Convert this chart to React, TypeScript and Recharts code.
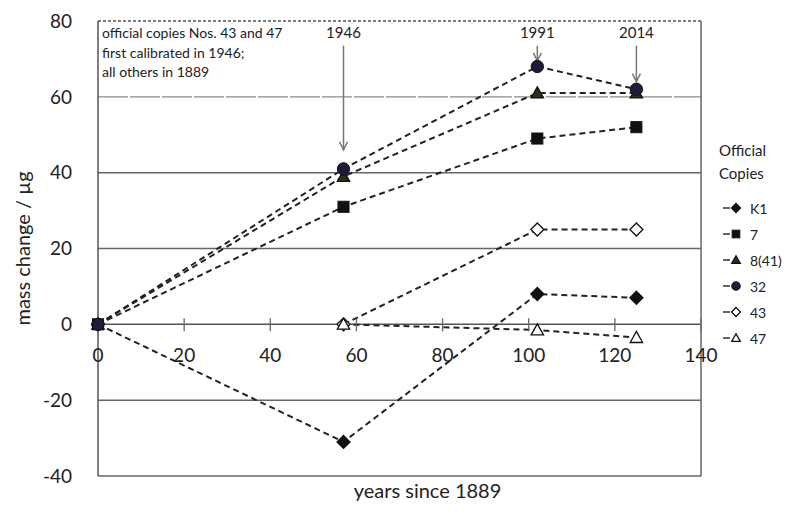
import React from 'react';
import { LineChart, Line, XAxis, YAxis, ReferenceLine, ReferenceDot, Legend } from 'recharts';

const years = [0, 57, 102, 125];
const seriesK1 = [0, -31, 8, 7];
const series7 = [0, 31, 49, 52];
const series8 = [0, 39, 61, 61];
const series32 = [0, 41, 68, 62];
const series43: (number | null)[] = [null, 0, 25, 25];
const series47: (number | null)[] = [null, 0, -1.5, -3.5];

const seriesNames = ['K1', '7', '8(41)', '32', '43', '47'];
const seriesKeys = ['k1', 'c7', 'c8', 'c32', 'c43', 'c47'];
const seriesMarkers = ['diamond', 'square', 'triangle', 'circle', 'openDiamond', 'openTriangle'];
const seriesFills = ['#111111', '#111111', '#2f2f14', '#1c1c3a', '#ffffff', '#ffffff'];

const xTicks = [0, 20, 40, 60, 80, 100, 120, 140];
const yTicks = [-40, -20, 0, 20, 40, 60, 80];
const solidGrid = [20, 40, -20];
const events = [
  { label: '1946', x: 57, tip: 46 },
  { label: '1991', x: 102, tip: 69.5 },
  { label: '2014', x: 125, tip: 64 },
];
const noteLines = ['official copies Nos. 43 and 47', 'first calibrated in 1946;', 'all others in 1889'];

const tableData = years.map((year, i) => ({
  year,
  k1: seriesK1[i],
  c7: series7[i],
  c8: series8[i],
  c32: series32[i],
  c43: series43[i],
  c47: series47[i],
}));

const FONT = 'Lato, "Open Sans", sans-serif';

function Marker({ kind, cx, cy, s, fill }: any) {
  const stroke = '#111';
  if (kind === 'diamond' || kind === 'openDiamond') {
    return (
      <polygon
        points={`${cx},${cy - s} ${cx + s},${cy} ${cx},${cy + s} ${cx - s},${cy}`}
        fill={fill}
        stroke={stroke}
        strokeWidth={1.3}
      />
    );
  }
  if (kind === 'square') {
    const h = s * 0.85;
    return <rect x={cx - h} y={cy - h} width={2 * h} height={2 * h} fill={fill} stroke={stroke} strokeWidth={1} />;
  }
  if (kind === 'triangle' || kind === 'openTriangle') {
    return (
      <polygon
        points={`${cx},${cy - s * 0.95} ${cx + s * 0.95},${cy + s * 0.75} ${cx - s * 0.95},${cy + s * 0.75}`}
        fill={fill}
        stroke={stroke}
        strokeWidth={1.3}
      />
    );
  }
  return <circle cx={cx} cy={cy} r={s * 0.95} fill={fill} stroke={stroke} strokeWidth={1} />;
}

const makeDot = (idx: number) => (p: any) => {
  const key = `${seriesKeys[idx]}-${p.index}`;
  if (p.cx == null || p.cy == null || p.value == null) return <g key={key} />;
  return <Marker key={key} kind={seriesMarkers[idx]} cx={p.cx} cy={p.cy} s={6.5} fill={seriesFills[idx]} />;
};

const renderLegend = (props: any) => {
  const payload = [...(props.payload || [])].sort(
    (a: any, b: any) => seriesKeys.indexOf(a.dataKey) - seriesKeys.indexOf(b.dataKey)
  );
  return (
    <div style={{ fontFamily: FONT, color: '#222' }}>
      <div style={{ fontSize: 15, lineHeight: '23px', marginBottom: 10 }}>
        Official
        <br />
        Copies
      </div>
      {payload.map((entry: any, i: number) => {
        const idx = Math.max(0, seriesKeys.indexOf(entry.dataKey));
        return (
          <div key={i} style={{ display: 'flex', alignItems: 'center', height: 26, fontSize: 14 }}>
            <svg width={26} height={14} style={{ marginLeft: 3 }}>
              <line x1={1} y1={7} x2={8} y2={7} stroke="#333" strokeWidth={1.5} />
              <Marker kind={seriesMarkers[idx]} cx={14} cy={7} s={4.5} fill={seriesFills[idx]} />
            </svg>
            <span style={{ marginLeft: 2 }}>{seriesNames[idx]}</span>
          </div>
        );
      })}
    </div>
  );
};

const ArrowShape = (p: any) => {
  const { x1, y1, x2, y2 } = p;
  if (x1 == null) return <g />;
  return (
    <g>
      <line x1={x1} y1={y1} x2={x2} y2={y2} stroke="#777" strokeWidth={1.5} />
      <polyline points={`${x2 - 4},${y2 - 8} ${x2},${y2} ${x2 + 4},${y2 - 8}`} fill="none" stroke="#777" strokeWidth={1.5} />
    </g>
  );
};

const YTitle = (props: any) => {
  const vb = props.viewBox || {};
  const cx = vb.x + 17;
  const cy = vb.y + vb.height / 2;
  return (
    <text
      x={cx}
      y={cy}
      transform={`rotate(-90 ${cx} ${cy})`}
      textAnchor="middle"
      dominantBaseline="middle"
      fontSize={20}
      fill="#222"
      fontFamily={FONT}
    >
      mass change / µg
    </text>
  );
};

const XTitle = (props: any) => {
  const vb = props.viewBox || {};
  const cx = vb.x + vb.width / 2 + 28;
  const cy = vb.y + vb.height - 21;
  return (
    <text x={cx} y={cy} textAnchor="middle" dominantBaseline="middle" fontSize={20} fill="#222" fontFamily={FONT}>
      years since 1889
    </text>
  );
};

export default function App() {
  return (
    <div style={{ position: 'absolute', left: 0, top: 0, background: '#fff' }}>
      <LineChart
        width={791}
        height={514}
        data={tableData}
        margin={{ top: 21, right: 90, bottom: 0, left: 8 }}
        style={{ fontFamily: FONT }}
      >
        <XAxis
          dataKey="year"
          type="number"
          domain={[0, 140]}
          ticks={xTicks}
          tick={false}
          tickLine={false}
          axisLine={false}
          height={38}
          label={{ content: XTitle }}
        />
        <YAxis
          type="number"
          domain={[-40, 80]}
          ticks={yTicks}
          width={90}
          tickLine={false}
          tickSize={0}
          tickMargin={26}
          axisLine={{ stroke: '#555', strokeWidth: 1.5 }}
          tick={{ fontSize: 19, fill: '#222', fontFamily: FONT }}
          label={{ content: YTitle }}
        />
        {solidGrid.map((v) => (
          <ReferenceLine key={`g${v}`} y={v} stroke="#666" strokeWidth={1.5} />
        ))}
        <ReferenceLine y={60} stroke="#8a8a8a" strokeWidth={1.2} strokeDasharray="30 2" />
        <ReferenceLine y={80} stroke="#555" strokeWidth={1.5} strokeDasharray="3 2" />
        <ReferenceLine y={-40} stroke="#666" strokeWidth={1.5} />
        <ReferenceLine x={140} stroke="#666" strokeWidth={1.5} />
        <ReferenceLine y={0} stroke="#555" strokeWidth={1.5} />
        {xTicks.map((t) => (
          <ReferenceDot
            key={`xt${t}`}
            x={t}
            y={0}
            r={0}
            shape={(p: any) => (
              <g>
                <line x1={p.cx} y1={p.cy - 6} x2={p.cx} y2={p.cy + 7} stroke="#666" strokeWidth={1.3} />
                <text x={p.cx} y={p.cy + 33} textAnchor="middle" dominantBaseline="middle" fontSize={19} fill="#222" fontFamily={FONT}>
                  {t}
                </text>
              </g>
            )}
          />
        ))}
        <ReferenceDot
          x={0}
          y={80}
          r={0}
          shape={(p: any) => (
            <g>
              {noteLines.map((line, i) => (
                <text key={i} x={p.cx + 4} y={p.cy + 17 + i * 19.5} fontSize={14} fill="#222" fontFamily={FONT}>
                  {line}
                </text>
              ))}
            </g>
          )}
        />
        {events.map((e) => (
          <ReferenceLine
            key={`a${e.label}`}
            segment={[
              { x: e.x, y: 73.5 },
              { x: e.x, y: e.tip },
            ]}
            shape={ArrowShape}
          />
        ))}
        {events.map((e) => (
          <ReferenceDot
            key={`l${e.label}`}
            x={e.x}
            y={80}
            r={0}
            shape={(p: any) => (
              <text x={p.cx} y={p.cy + 13} textAnchor="middle" dominantBaseline="middle" fontSize={15} fill="#222" fontFamily={FONT}>
                {e.label}
              </text>
            )}
          />
        ))}
        {seriesKeys.map((k, idx) => (
          <Line
            key={k}
            dataKey={k}
            name={seriesNames[idx]}
            type="linear"
            stroke="#222"
            strokeWidth={2}
            strokeDasharray="6 4"
            connectNulls={false}
            isAnimationActive={false}
            activeDot={false}
            dot={makeDot(idx)}
          />
        ))}
        <Legend
          layout="vertical"
          align="center"
          verticalAlign="middle"
          content={renderLegend}
          wrapperStyle={{ position: 'absolute', left: 719, top: 139, width: 72, height: 'auto' }}
        />
      </LineChart>
    </div>
  );
}
